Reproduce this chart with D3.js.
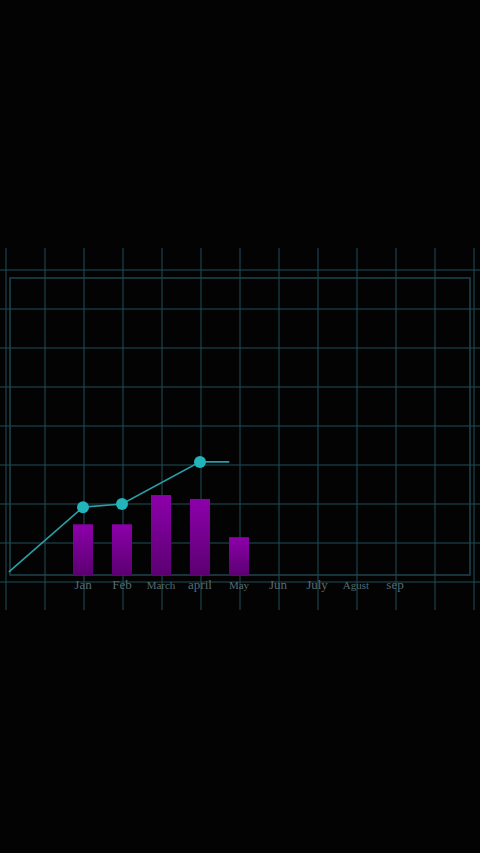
<!DOCTYPE html>
<html><head><meta charset="utf-8">
<script src="https://cdn.jsdelivr.net/npm/d3@7"></script>
<style>body{margin:0;background:#030303;}</style>
</head><body><svg id="chart"></svg>
<script>
// data
var months = ['Jan','Feb','March','april','May','Jun','July','Agust','sep'];
var barValues = [1.3, 1.3, 2.05, 1.95, 0.97];
var lineIndex = [-1.9, 0, 1, 3, 3.75];
var lineValues = [0.08, 1.74, 1.82, 2.9, 2.9];
var dotIndex = [0, 1, 3];
var dotValues = [1.74, 1.82, 2.9];

var svgWidth = 480, svgHeight = 853;
var svg = d3.select('#chart').attr('width', svgWidth).attr('height', svgHeight);

var x = d3.scaleLinear().domain([0, 8]).range([83, 395]);
var y = d3.scaleLinear().domain([0, 8]).range([575, 263]);

var defs = svg.append('defs');
var grad = defs.append('linearGradient').attr('id', 'barg').attr('x1', 0).attr('y1', 0).attr('x2', 0).attr('y2', 1);
grad.append('stop').attr('offset', '0%').attr('stop-color', '#8d00ab');
grad.append('stop').attr('offset', '100%').attr('stop-color', '#5c0072');

// grid
var gx = d3.range(-2, 11).map(function(i){ return x(i) + 1; });
var gy = d3.range(0, 9).map(function(i){ return y(i) + 7; });
svg.selectAll('line.vg').data(gx).enter().append('line')
  .attr('x1', function(d){ return d; }).attr('x2', function(d){ return d; })
  .attr('y1', 248).attr('y2', 610)
  .attr('stroke', '#1f4f5a').attr('stroke-width', 1);
svg.selectAll('line.hg').data(gy).enter().append('line')
  .attr('y1', function(d){ return d; }).attr('y2', function(d){ return d; })
  .attr('x1', 0).attr('x2', 480)
  .attr('stroke', '#1f4f5a').attr('stroke-width', 1);
svg.append('rect').attr('x', 10).attr('y', 278).attr('width', 460).attr('height', 297)
  .attr('fill', 'none').attr('stroke', '#1d4650').attr('stroke-width', 1.5);

// bars
svg.selectAll('rect.bar').data(barValues).enter().append('rect')
  .attr('class', 'bar')
  .attr('x', function(d, i){ return x(i) - 10; })
  .attr('width', 20)
  .attr('y', function(d){ return y(d); })
  .attr('height', function(d){ return y(0) - y(d); })
  .attr('fill', 'url(#barg)');

// line
var line = d3.line()
  .x(function(d, i){ return x(lineIndex[i]); })
  .y(function(d){ return y(d); });
svg.append('path').datum(lineValues).attr('d', line)
  .attr('fill', 'none').attr('stroke', '#2a9ea6').attr('stroke-width', 1.6);
svg.selectAll('circle').data(dotValues).enter().append('circle')
  .attr('cx', function(d, i){ return x(dotIndex[i]); })
  .attr('cy', function(d){ return y(d); })
  .attr('r', 6).attr('fill', '#22b3bb');

// labels
var smallLabels = ['March', 'Agust', 'May'];
svg.selectAll('text').data(months).enter().append('text')
  .attr('x', function(d, i){ return x(i); })
  .attr('y', 589)
  .attr('text-anchor', 'middle')
  .attr('font-family', 'Liberation Serif, serif')
  .attr('font-size', function(d){ return smallLabels.indexOf(d) >= 0 ? 11 : 13; })
  .attr('fill', '#566a72')
  .text(function(d){ return d; });
</script></body></html>
